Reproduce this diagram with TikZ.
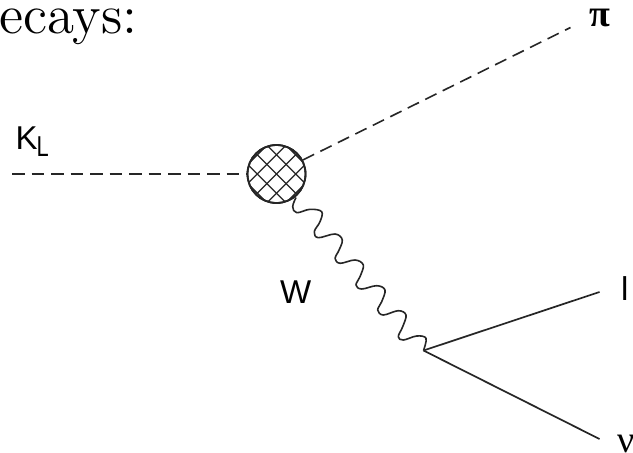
\documentclass[tikz,border=0pt]{standalone}
\usepackage{fontspec}
\newfontfamily\lblfont{Liberation Sans}
\newfontfamily\grkfont{Liberation Serif}
\tikzset{
  x=1pt,y=-1pt,
  lbl/.style={inner sep=0pt,anchor=base west,font=\lblfont\fontsize{33}{33}\selectfont},
  grk/.style={inner sep=0pt,anchor=base west,font=\grkfont\fontsize{38}{38}\selectfont},
  dashline/.style={line width=1.6pt,dash pattern=on 12.5pt off 7pt,draw=black!85},
  fermion/.style={line width=1.7pt,draw=black!85},
  boson/.style={line width=1.6pt,draw=black!85,line join=round},
  blobstyle/.style={circle,minimum size=58pt,inner sep=0pt,line width=1.8pt,draw=black!85,fill=white}
}
\begin{document}
\begin{tikzpicture}
\useasboundingbox (0,0) rectangle (633,453);
\fill[white] (0,0) rectangle (633,453);
\node[blobstyle] (blob) at (276.5,174) {};
\begin{scope}
  \clip (276.5,174) circle (29);
  \foreach \k in {-4,...,4}{
    \draw[line width=1.3pt,black!85] (276.5+\k*19.2-60,174-60) -- (276.5+\k*19.2+60,174+60);
    \draw[line width=1.3pt,black!85] (276.5+\k*19.2-60,174+60) -- (276.5+\k*19.2+60,174-60);
  }
\end{scope}
\node[draw=black!85,circle,minimum size=58pt,inner sep=0pt,line width=1.8pt] at (blob) {};
\coordinate (kin) at (12,174);
\coordinate (piout) at (570.5,27.5);
\coordinate (vtx) at (423.5,350.5);
\coordinate (lout) at (599.5,292);
\coordinate (nuout) at (599.5,439);
\draw[dashline] (kin) -- (blob.west);
\draw[dashline] (blob.28) -- (piout);
\draw[fermion] (vtx) -- (lout);
\draw[fermion] (vtx) -- (nuout);
\draw[boson] plot[smooth,tension=0.6] coordinates {
 (296,197.5) (292.7,206.7) (296.7,212.7) (310,209.3) (321.7,211.7) (320,221.7) (314.3,231.7)
 (318.3,237.7) (335,234) (342.3,240) (338.3,251.7) (335,258.3) (340,263.3) (355,260) (363.3,265)
 (360,276.7) (356,285) (361.7,289) (376.7,285.7) (385,290) (381.7,301.7) (377.7,310) (383.3,315)
 (398.3,310.7) (406,315) (402.7,326.7) (398.3,336.7) (403.3,340) (416.7,336) (426,338.3) (423.5,350.5)};
\node[lbl] (kl) at (15.5,149) {K};
\node[inner sep=0pt,anchor=base west,font=\lblfont\fontsize{23}{23}\selectfont] (klsub) at (36.5,156) {\scalebox{0.95}[1.25]{L}};
\node[lbl] (w) at (280,303) {W};
\node[lbl] (l) at (621,300) {l};
\node[grk] (pi) at (589,26) {\textbf{π}};
\node[grk] (nu) at (617.5,452) {ν};
\node[inner sep=0pt,anchor=base west] (title) at (-1,33.5) {\scalebox{4.6}{\fontsize{12}{12}\selectfont ecays:}};
\end{tikzpicture}
\end{document}
